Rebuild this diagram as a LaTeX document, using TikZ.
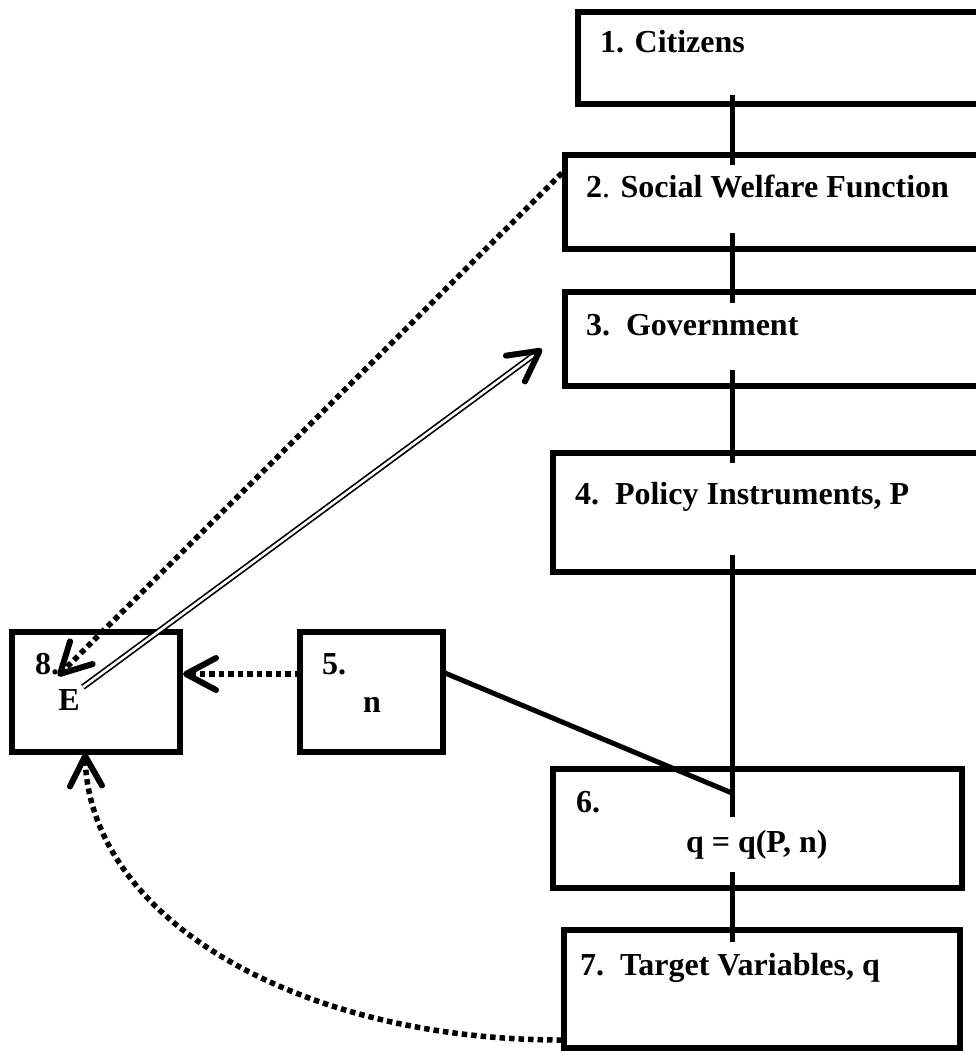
\documentclass[tikz,border=0pt]{standalone}
\usepackage{fontspec}
\setmainfont{Liberation Serif}
\usetikzlibrary{arrows.meta,calc}

\tikzset{
  stage/.style={draw, line width=5.5pt, rectangle, inner sep=0pt, outer sep=0pt, anchor=north west},
  caption/.style={anchor=base west, inner sep=0pt, outer sep=0pt,
    font=\fontsize{32}{38}\selectfont\bfseries},
  link/.style={line width=5pt},
  hint/.style={line width=5.5pt, dash pattern=on 5.5pt off 4pt},
  barb/.style={-{Straight Barb[length=30pt, width=32pt, line width=6pt, round]}},
  twin/.style={double, line width=1.7pt, double distance=2.6pt},
}

\begin{document}
\begin{tikzpicture}[x=1pt, y=-1pt]
\useasboundingbox (0,0) rectangle (976,1051);
\clip (0,0) rectangle (976,1051);

% stages of the policy process
\node[stage, minimum width=540pt, minimum height=92pt]  (n1) at (578,12)  {};
\node[stage, minimum width=540pt, minimum height=94pt]  (n2) at (565,155) {};
\node[stage, minimum width=540pt, minimum height=94pt]  (n3) at (565,292) {};
\node[stage, minimum width=560pt, minimum height=119pt] (n4) at (553,453) {};
\node[stage, minimum width=143pt, minimum height=120pt] (n5) at (300,632) {};
\node[stage, minimum width=409pt, minimum height=119pt] (n6) at (553,769) {};
\node[stage, minimum width=396pt, minimum height=118pt] (n7) at (564,930) {};
\node[stage, minimum width=168pt, minimum height=120pt] (n8) at (12,632)  {};

% captions
\node[caption] (t1) at (600,53)  {1. Citizens};
\node[caption] (t2) at (586,197) {2{\mdseries .} Social Welfare Function};
\node[caption] (t3) at (586,335) {3.\ \ Government};
\node[caption] (t4) at (575,504) {4.\ \ Policy Instruments, P};
\node[caption] (t5) at (322,674) {5.};
\node[caption, anchor=base] (t5b) at (372,712) {n};
\node[caption] (t6) at (576,812) {6.};
\node[caption] (t6b) at (686,852) {q = q(P, n)};
\node[caption] (t7) at (580,975) {7.\ \ Target Variables, q};
\node[caption] (t8) at (35,674)  {8.};
\node[caption, anchor=base] (t8b) at (69,710) {E};

% main chain
\coordinate (spine) at (732,0);
\draw[link] ($(n1.south -| spine)+(0,-9)$)  -- ($(n2.north -| spine)+(0,10)$);
\draw[link] ($(n2.south -| spine)+(0,-16)$) -- ($(n3.north -| spine)+(0,11)$);
\draw[link] ($(n3.south -| spine)+(0,-16)$) -- ($(n4.north -| spine)+(0,10)$);
\draw[link] ($(n4.south -| spine)+(0,-17)$) -- ($(n6.north -| spine)+(0,48)$);
\draw[link] ($(n6.south -| spine)+(0,-16)$) -- ($(n7.north -| spine)+(0,12)$);
\draw[link] ($(n5.north east)+(2,41)$) -- ($(n6.north -| spine)+(0,24)$);

% feedback to the evaluation box
\draw[hint, barb] ($(n5.west)+(0,-18)$) -- ($(n8.east)+(3,-18)$);
\draw[hint, barb] ($(n2.west)+(-3,-29)$) -- ($(n8.north west)+(46,44)$);
\draw[hint, barb] ($(n7.south west)+(-2,-8)$)
  .. controls (300,1040) and (90,920) .. ($(n8.south)+(-11,1)$);

% evaluation back to government
\coordinate (gtip) at ($(n3.west)+(-23,10)$);
\coordinate (efoot) at ($(n8.north west)+(71,55)$);
\draw[twin, shorten >=3pt] (efoot) -- (gtip);
\draw[barb, line width=1pt] ($(gtip)!2pt!(efoot)$) -- (gtip);
\end{tikzpicture}
\end{document}
